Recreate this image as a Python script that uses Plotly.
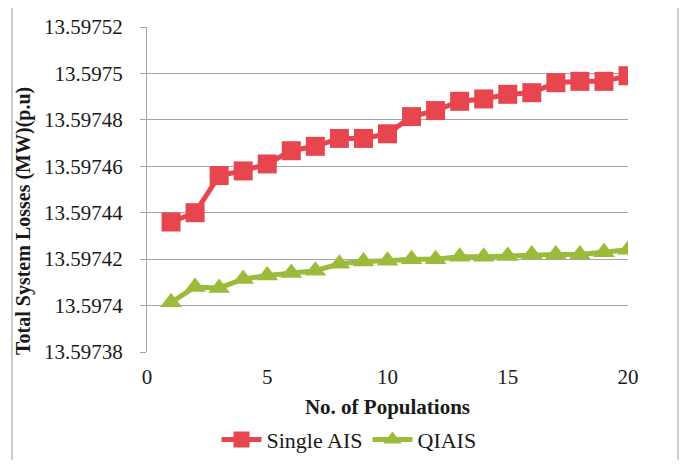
import plotly.graph_objects as go

populations = list(range(1, 21))
single_ais = [13.597436, 13.597440, 13.597456, 13.597458, 13.597461, 13.5974667, 13.5974686,
              13.597472, 13.597472, 13.597474, 13.5974814, 13.597484, 13.597488, 13.597489,
              13.597491, 13.5974917, 13.597496, 13.5974966, 13.5974966, 13.597499]
qiais = [13.5974014, 13.597408, 13.5974076, 13.5974114, 13.597413, 13.597414, 13.597415,
         13.597418, 13.597419, 13.5974193, 13.597420, 13.59742, 13.597421, 13.597421,
         13.5974214, 13.597422, 13.597422, 13.597422, 13.597423, 13.597424]
y_tick_vals = [13.59738, 13.5974, 13.59742, 13.59744, 13.59746, 13.59748, 13.5975, 13.59752]
y_tick_text = ["13.59738", "13.5974", "13.59742", "13.59744", "13.59746", "13.59748", "13.5975", "13.59752"]
x_tick_vals = [0, 5, 10, 15, 20]

FONT = "Liberation Serif"
RED = "#e8464f"
GREEN = "#9dbb3b"
GRID = "#a3a3b3"
TXT = "#1a1a1a"

fig = go.Figure()
fig.add_trace(go.Scatter(x=populations, y=single_ais, name="Single AIS", mode="lines+markers",
                         line=dict(color=RED, width=5),
                         marker=dict(symbol="square", size=19, color=RED)))
fig.add_trace(go.Scatter(x=populations, y=qiais, name="QIAIS", mode="lines+markers",
                         line=dict(color=GREEN, width=5),
                         marker=dict(symbol="triangle-up", size=19, color=GREEN)))

fig.update_layout(
    width=671, height=452,
    margin=dict(l=139, r=51, t=19, b=108, autoexpand=False),
    paper_bgcolor="white", plot_bgcolor="white",
    font=dict(family=FONT, size=21, color=TXT),
    showlegend=True,
    legend=dict(orientation="h", x=0.42, xanchor="center", yref="container", y=0.045, yanchor="middle",
                font=dict(family=FONT, size=22, color=TXT), itemwidth=40, tracegroupgap=0),
    xaxis=dict(range=[0, 20], tickvals=x_tick_vals, showgrid=False, zeroline=False,
               showline=False, ticks="", automargin=False, ticklabelstandoff=10,
               tickfont=dict(family=FONT, size=21, color=TXT),
               title=dict(text="<b>No. of Populations</b>", font=dict(family=FONT, size=21, color=TXT), standoff=41)),
    yaxis=dict(range=[13.59738, 13.59752], tickvals=y_tick_vals, ticktext=y_tick_text,
               showgrid=True, gridcolor=GRID, gridwidth=1.3, zeroline=False,
               showline=True, linecolor=GRID, linewidth=1.3, automargin=False,
               ticks="outside", ticklen=6, tickcolor=GRID, ticklabelstandoff=13,
               tickfont=dict(family=FONT, size=21, color=TXT)),
    annotations=[dict(text="<b>Total System Losses (MW)(p.u)</b>", textangle=-90,
                      xref="paper", yref="paper", x=-0.258, y=0.403,
                      xanchor="center", yanchor="middle", showarrow=False,
                      font=dict(family=FONT, size=20, color=TXT))],
)

# outer frame lines (decoration)
fig.add_shape(type="line", xref="paper", yref="paper", x0=-0.2807, x1=-0.2807, y0=-0.332, y1=1.058,
              line=dict(color="#9a9a9a", width=1))
fig.add_shape(type="line", xref="paper", yref="paper", x0=1.104, x1=1.104, y0=-0.332, y1=1.058,
              line=dict(color="#9a9a9a", width=1))

fig.write_html("out.html")
